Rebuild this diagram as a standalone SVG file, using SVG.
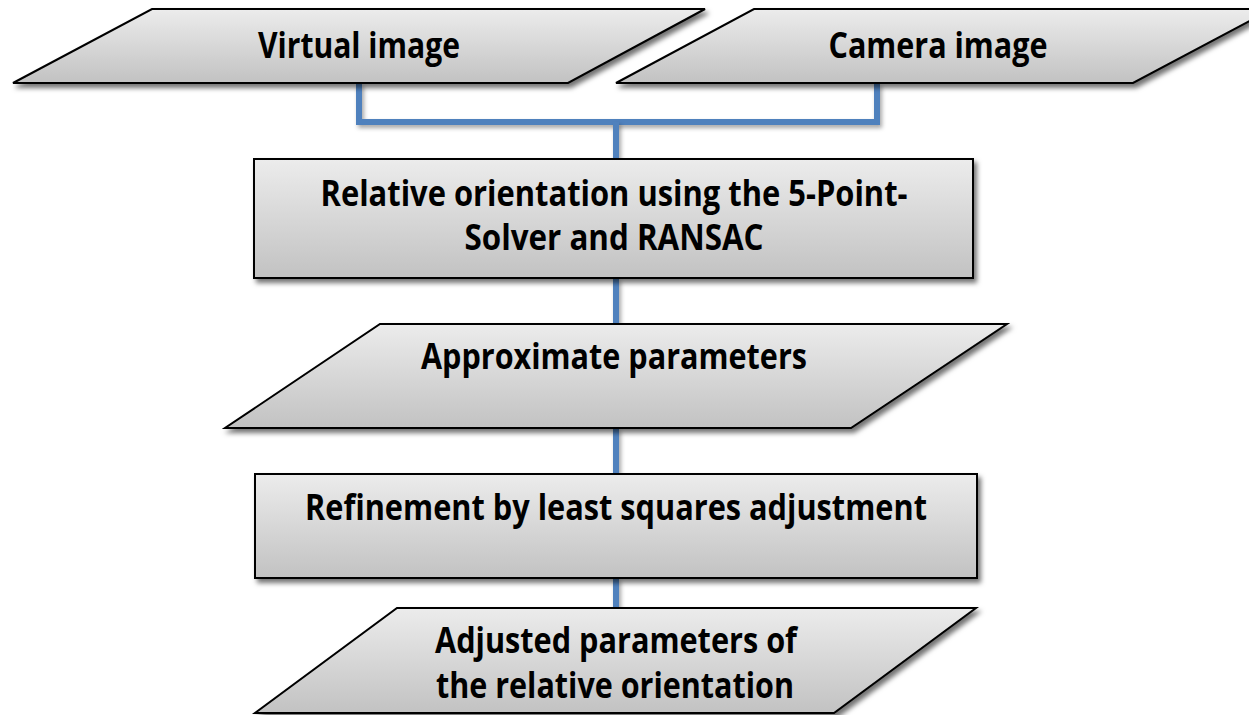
<svg xmlns="http://www.w3.org/2000/svg" width="1249" height="715" viewBox="0 0 1249 715">
<defs>
<linearGradient id="g" x1="0" y1="0" x2="0" y2="1">
<stop offset="0" stop-color="#ececec"/>
<stop offset="1" stop-color="#c2c2c2"/>
</linearGradient>
<filter id="sh" x="-10%" y="-20%" width="125%" height="150%">
<feDropShadow dx="3" dy="4" stdDeviation="2.5" flood-color="#000" flood-opacity="0.55"/>
</filter>
<filter id="lsh" filterUnits="userSpaceOnUse" x="0" y="0" width="1249" height="715">
<feDropShadow dx="2" dy="3" stdDeviation="2" flood-color="#000" flood-opacity="0.35"/>
</filter>
</defs>
<style>
.n{fill:url(#g);stroke:#000;stroke-width:2;filter:url(#sh)}
.t{font-family:"Open Sans","Liberation Sans",sans-serif;font-weight:bold;font-size:35px;fill:#000;text-anchor:middle}
.c{fill:none;stroke:#4f81bd;stroke-width:6;filter:url(#lsh)}
</style>
<rect width="1249" height="715" fill="#fff"/>
<g id="connectors">
<path class="c" d="M359 83 V122 H877 V83"/>
<path class="c" d="M616 122 V159"/>
<path class="c" d="M616 278 V324"/>
<path class="c" d="M616 428 V474"/>
<path class="c" d="M616 578 V608"/>
</g>
<g id="virtual">
<polygon class="n" points="152,9 705,9 568,83 13,83"/>
<text class="t" x="359" y="58" textLength="202" lengthAdjust="spacingAndGlyphs">Virtual image</text>
</g>
<g id="camera">
<polygon class="n" points="754,9 1272,9 1133,83 616,83"/>
<text class="t" x="938" y="58" textLength="219" lengthAdjust="spacingAndGlyphs">Camera image</text>
</g>
<g id="relative">
<rect class="n" x="254" y="159" width="719" height="119"/>
<text class="t" x="614" y="206" textLength="587" lengthAdjust="spacingAndGlyphs">Relative orientation using the 5-Point-</text>
<text class="t" x="614" y="250" textLength="299" lengthAdjust="spacingAndGlyphs">Solver and RANSAC</text>
</g>
<g id="approx">
<polygon class="n" points="380,324 1007,324 851,428 225,428"/>
<text class="t" x="614" y="369" textLength="386" lengthAdjust="spacingAndGlyphs">Approximate parameters</text>
</g>
<g id="refine">
<rect class="n" x="255" y="474" width="722" height="104"/>
<text class="t" x="616" y="520" textLength="622" lengthAdjust="spacingAndGlyphs">Refinement by least squares adjustment</text>
</g>
<g id="adjusted">
<polygon class="n" points="397,608 976,608 834,713 255,713"/>
<text class="t" x="616" y="653" textLength="362" lengthAdjust="spacingAndGlyphs">Adjusted parameters of</text>
<text class="t" x="615" y="698" textLength="358" lengthAdjust="spacingAndGlyphs">the relative orientation</text>
</g>
</svg>
